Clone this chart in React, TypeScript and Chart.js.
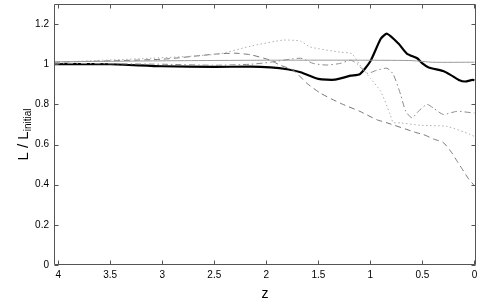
import React, { useEffect, useRef } from "react";
import { Chart, registerables } from "chart.js";

Chart.register(...registerables);

const xTicks = [4, 3.5, 3, 2.5, 2, 1.5, 1, 0.5, 0];
const yTicks = [0, 0.2, 0.4, 0.6, 0.8, 1, 1.2];

const zBlack = [4.04, 3.5, 3.0, 2.5, 2.15, 1.96, 1.8, 1.67, 1.5, 1.34, 1.19, 1.1, 1.0, 0.9, 0.84, 0.73, 0.65, 0.55, 0.5, 0.44, 0.3, 0.23, 0.15, 0.09, 0.02, 0];
const vBlack = [1.0, 1.0, 0.99, 0.987, 0.988, 0.984, 0.975, 0.96, 0.927, 0.923, 0.943, 0.951, 1.015, 1.127, 1.152, 1.103, 1.053, 1.03, 1.004, 0.984, 0.966, 0.947, 0.922, 0.914, 0.922, 0.92];

const zGray = [4.04, 3, 2, 1, 0.6, 0.4, 0];
const vGray = [1.012, 1.017, 1.02, 1.02, 1.018, 1.01, 1.01];

const zDashed = [4.04, 3, 2.5, 2.3, 2.15, 1.96, 1.87, 1.74, 1.61, 1.48, 1.29, 1.1, 0.94, 0.84, 0.55, 0.49, 0.39, 0.3, 0.23, 0.17, 0.12, 0.055, 0];
const vDashed = [1.01, 1.025, 1.05, 1.055, 1.047, 1.02, 0.996, 0.97, 0.905, 0.856, 0.806, 0.765, 0.724, 0.708, 0.658, 0.65, 0.627, 0.61, 0.568, 0.52, 0.48, 0.428, 0.395];

const zDotted = [4.04, 3.1, 2.47, 2.15, 1.84, 1.67, 1.58, 1.29, 1.18, 1.1, 1.0, 0.9, 0.81, 0.78, 0.71, 0.52, 0.26, 0.04, 0];
const vDotted = [1.01, 1.03, 1.05, 1.09, 1.12, 1.115, 1.086, 1.06, 1.053, 0.996, 0.93, 0.864, 0.75, 0.71, 0.708, 0.696, 0.69, 0.65, 0.64];

const zDashDot = [4.04, 3, 2.5, 2.15, 1.96, 1.67, 1.55, 1.42, 1.29, 1.19, 1.13, 1.03, 0.94, 0.84, 0.78, 0.71, 0.66, 0.6, 0.54, 0.455, 0.39, 0.3, 0.17, 0];
const vDashDot = [1.005, 1.0, 0.995, 1.0, 1.01, 1.03, 1.004, 0.996, 1.004, 1.02, 1.004, 0.955, 0.97, 0.98, 0.95, 0.85, 0.765, 0.733, 0.765, 0.8, 0.78, 0.75, 0.765, 0.757];

const toPts = (z: number[], v: number[]) => z.map((x, i) => ({ x, y: v[i] }));

const FONT = "'Liberation Sans', Arial, Helvetica, sans-serif";

const framePlugin = {
  id: "frame",
  afterDraw(chart: any) {
    const ctx = chart.ctx;
    const a = chart.chartArea;
    const xs = chart.scales.x;
    const ys = chart.scales.y;
    ctx.save();
    ctx.setLineDash([]);
    ctx.globalAlpha = 1;
    ctx.strokeStyle = "#555";
    ctx.lineWidth = 1;
    const L = Math.round(a.left) + 0.5;
    const R = Math.round(a.right) - 0.5;
    const T = Math.round(a.top) + 0.5;
    const B = Math.round(a.bottom) - 0.5;
    ctx.beginPath();
    ctx.rect(L, T, R - L, B - T);
    const tl = 4;
    xTicks.forEach((t) => {
      const px = Math.round(xs.getPixelForValue(t)) + 0.5;
      ctx.moveTo(px, B);
      ctx.lineTo(px, B - tl);
      ctx.moveTo(px, T);
      ctx.lineTo(px, T + tl);
    });
    yTicks.forEach((t) => {
      const py = Math.round(ys.getPixelForValue(t)) + 0.5;
      ctx.moveTo(L, py);
      ctx.lineTo(L + tl, py);
      ctx.moveTo(R, py);
      ctx.lineTo(R - tl, py);
    });
    ctx.stroke();

    ctx.fillStyle = "#000";
    ctx.font = `14px ${FONT}`;
    ctx.textAlign = "center";
    ctx.textBaseline = "middle";
    ctx.fillText("z", (a.left + a.right) / 2, 294);

    const cy = (a.top + a.bottom) / 2;
    ctx.translate(22, cy);
    ctx.rotate(-Math.PI / 2);
    const main = "L / L";
    const sub = "initial";
    ctx.font = `15px ${FONT}`;
    const wMain = ctx.measureText(main).width;
    ctx.font = `10px ${FONT}`;
    const wSub = ctx.measureText(sub).width;
    const total = wMain + wSub;
    ctx.textAlign = "left";
    ctx.textBaseline = "alphabetic";
    ctx.font = `15px ${FONT}`;
    ctx.fillText(main, -total / 2, 6);
    ctx.font = `10px ${FONT}`;
    ctx.fillText(sub, -total / 2 + wMain, 9);
    ctx.restore();
  },
};

export default function App() {
  const ref = useRef<HTMLCanvasElement | null>(null);
  useEffect(() => {
    if (!ref.current) return;
    const common = { pointRadius: 0, fill: false, tension: 0.2, showLine: true };
    const zeroPad = (s: any) => {
      s.paddingTop = 0;
      s.paddingBottom = 0;
      s.paddingLeft = 0;
      s.paddingRight = 0;
    };
    const chart = new Chart(ref.current, {
      type: "scatter",
      data: {
        datasets: [
          { ...common, label: "gray", data: toPts(zGray, vGray), borderColor: "#9a9a9a", borderWidth: 1 },
          { ...common, label: "dotted", data: toPts(zDotted, vDotted), borderColor: "#b0b0b0", borderWidth: 1, borderDash: [1.5, 2.5] },
          { ...common, label: "dashdot", data: toPts(zDashDot, vDashDot), borderColor: "#8a8a8a", borderWidth: 1, borderDash: [6, 3, 1.5, 3] },
          { ...common, label: "dashed", data: toPts(zDashed, vDashed), borderColor: "#777", borderWidth: 1, borderDash: [6, 4] },
          { ...common, label: "black", data: toPts(zBlack, vBlack), borderColor: "#000", borderWidth: 2.2 },
        ],
      },
      options: {
        animation: false,
        responsive: false,
        layout: { padding: { left: 0, right: 4, top: 4, bottom: 0 } },
        plugins: { legend: { display: false }, tooltip: { enabled: false } },
        scales: {
          x: {
            type: "linear",
            reverse: true,
            min: -0.015,
            max: 4.04,
            grid: { display: false, drawTicks: false },
            border: { display: false },
            ticks: {
              padding: 4,
              color: "#000",
              font: { family: FONT, size: 10 },
              maxRotation: 0,
              callback: (v: any) => String(v),
            },
            afterBuildTicks: (s: any) => {
              s.ticks = xTicks.map((v) => ({ value: v }));
            },
            afterFit: (s: any) => {
              s.height = 43;
              zeroPad(s);
            },
          },
          y: {
            type: "linear",
            min: 0,
            max: 1.3,
            grid: { display: false, drawTicks: false },
            border: { display: false },
            ticks: {
              padding: 5,
              color: "#000",
              font: { family: FONT, size: 10 },
              callback: (v: any) => String(v),
            },
            afterBuildTicks: (s: any) => {
              s.ticks = yTicks.map((v) => ({ value: v }));
            },
            afterFit: (s: any) => {
              s.width = 54;
              zeroPad(s);
            },
          },
        },
      },
      plugins: [framePlugin],
    });
    return () => chart.destroy();
  }, []);
  return (
    <div style={{ position: "absolute", left: 0, top: 0, width: 480, height: 308, background: "#fff" }}>
      <canvas ref={ref} width={480} height={308} style={{ width: 480, height: 308 }} />
    </div>
  );
}
